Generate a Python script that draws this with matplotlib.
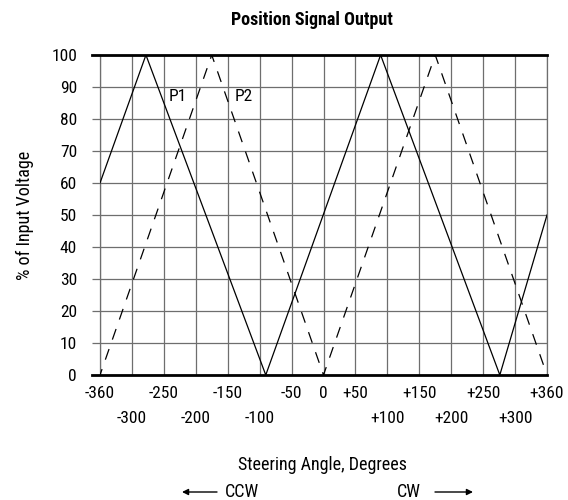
import numpy as np
import matplotlib.pyplot as plt

# steering angle (deg) vs % of input voltage
p1_angle = [-360, -286, -93, 92, 284, 360]
p1_volts = [60, 100, 0, 100, 0, 50]
p2_angle = [-360, -180, 0, 180, 360]
p2_volts = [0, 100, 0, 100, 0]

# nominal labels printed under the 15 evenly spaced grid lines
tick_labels = ['-360', '-300', '-250', '-200', '-150', '-100', '-50', '0',
               '+50', '+100', '+150', '+200', '+250', '+300', '+360']
# which labels sit on the lower row
lower_row = [False, True, False, True, False, True, False, False,
             False, True, False, True, False, True, False]
y_ticks = list(range(0, 101, 10))

FONT = ['Roboto Condensed', 'DejaVu Sans']
GRID = '#6e6e6e'
plt.rcParams['font.family'] = FONT

fig = plt.figure(figsize=(5.68, 5.0), dpi=100)
ax = fig.add_axes([100 / 568, 125 / 500, 447 / 568, 320 / 500])

ax.set_xlim(-360, 360)
ax.set_ylim(0, 100)

xpos = np.linspace(-360, 360, len(tick_labels))
labels = ['\n' + t if low else t for t, low in zip(tick_labels, lower_row)]
ax.set_xticks(xpos)
ax.set_xticklabels(labels, fontsize=12.5, linespacing=1.8)
ax.set_xticks([p for p, low in zip(xpos, lower_row) if low], minor=True)
ax.tick_params(axis='x', which='major', length=0, pad=8)
ax.tick_params(axis='x', which='minor', length=20, width=0.9, color=GRID)

ax.set_yticks(y_ticks)
ax.set_yticklabels([str(v) for v in y_ticks], fontsize=12.5)
ax.tick_params(axis='y', length=6, width=0.9, color=GRID, pad=10.5)

ax.grid(True, which='major', color=GRID, lw=0.9)
ax.set_axisbelow(True)

for side in ['left', 'right']:
    ax.spines[side].set_color(GRID)
    ax.spines[side].set_linewidth(0.9)
for side in ['top', 'bottom']:
    ax.spines[side].set_visible(False)
for yv in [0, 100]:
    ax.axhline(yv, xmin=-8 / 447, xmax=1, color='black', lw=2.0,
               clip_on=False, zorder=3)

ax.plot(p1_angle, p1_volts, color='black', lw=0.9, zorder=4)
ax.plot(p2_angle, p2_volts, color='black', lw=0.9, zorder=4,
        linestyle=(4, (9, 8)))

ax.text(-249, 87, 'P1', fontsize=12.5, ha='left', va='center')
ax.text(-143, 87, 'P2', fontsize=12.5, ha='left', va='center')

fig.text(312 / 568, 1 - 20 / 500, 'Position Signal Output', fontsize=13,
         fontweight='bold', ha='center', va='center')
fig.text(25 / 568, 1 - 215 / 500, '% of Input Voltage', fontsize=13,
         rotation=90, ha='center', va='center')
fig.text(322 / 568, 1 - 465 / 500, 'Steering Angle, Degrees', fontsize=13,
         ha='center', va='center')
fig.text(225 / 568, 1 - 492 / 500, 'CCW', fontsize=13, ha='left', va='center')
fig.text(397 / 568, 1 - 492 / 500, 'CW', fontsize=13, ha='left', va='center')

arrow = dict(arrowstyle='-|>', color='black', lw=1.0, mutation_scale=9,
             shrinkA=0, shrinkB=0)
ax.annotate('', xy=(182 / 568, 1 - 492 / 500), xytext=(217 / 568, 1 - 492 / 500),
            xycoords='figure fraction', textcoords='figure fraction',
            arrowprops=arrow)
ax.annotate('', xy=(473 / 568, 1 - 492 / 500), xytext=(435 / 568, 1 - 492 / 500),
            xycoords='figure fraction', textcoords='figure fraction',
            arrowprops=arrow)

fig.savefig('out.png', dpi=100)
